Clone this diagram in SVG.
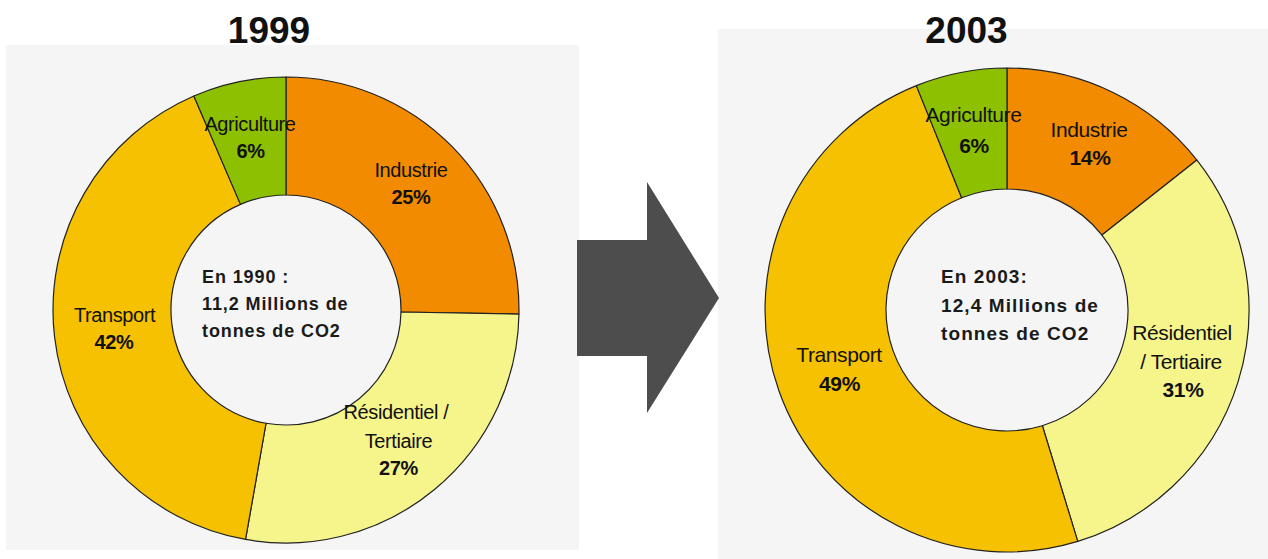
<svg xmlns="http://www.w3.org/2000/svg" width="1268" height="559" viewBox="0 0 1268 559">
<style>
.panel{fill:#f5f5f5}
.seg{stroke:#222;stroke-width:1.2;stroke-linejoin:round}
.ind{fill:#f38b00}
.agr{fill:#8dc000}
.tra{fill:#f5c100}
.res{fill:#f6f58c}
text{font-family:"Liberation Sans",Arial,sans-serif;fill:#111}
.title{font-size:37px;font-weight:bold;text-anchor:middle}
.lbl{font-size:20px;letter-spacing:-0.4px;text-anchor:middle}
.lblr{font-size:21px;letter-spacing:-0.4px;text-anchor:middle}
.b{font-weight:bold}
.ctr{font-size:18px;font-weight:bold;letter-spacing:0.9px;fill:#1a1a1a}
.ctrr{font-size:19px;font-weight:bold;letter-spacing:1.1px;fill:#1a1a1a}
.arrow{fill:#4d4d4d}
</style>
<rect width="1268" height="559" fill="#ffffff"/>
<rect class="panel" x="6" y="45" width="573" height="505"/>
<rect class="panel" x="718" y="29" width="550" height="530"/>

<g id="title-1999"><text class="title" x="269" y="43">1999</text></g>
<g id="title-2003"><text class="title" x="966.5" y="43">2003</text></g>

<g id="chart-1999">
<g id="industrie-1999">
<path class="seg ind" d="M 286 77 A 233 233 0 0 1 518.96 314.07 L 400.98 312.01 A 115 115 0 0 0 286 195 Z"/>
<text class="lbl" x="411" y="177">Industrie</text>
<text class="lbl b" x="411" y="204">25%</text>
</g>
<g id="residentiel-1999">
<path class="seg res" d="M 518.96 314.07 A 233 233 0 0 1 245.54 539.46 L 266.03 423.25 A 115 115 0 0 0 400.98 312.01 Z"/>
<text class="lbl" x="396" y="419">Résidentiel /</text>
<text class="lbl" x="398.5" y="447.5">Tertiaire</text>
<text class="lbl b" x="398.5" y="475">27%</text>
</g>
<g id="transport-1999">
<path class="seg tra" d="M 245.54 539.46 A 233 233 0 0 1 193.84 96 L 240.51 204.38 A 115 115 0 0 0 266.03 423.25 Z"/>
<text class="lbl" x="114.5" y="322">Transport</text>
<text class="lbl b" x="114" y="348.5">42%</text>
</g>
<g id="agriculture-1999">
<path class="seg agr" d="M 193.84 96 A 233 233 0 0 1 286 77 L 286 195 A 115 115 0 0 0 240.51 204.38 Z"/>
<text class="lbl" x="250" y="131">Agriculture</text>
<text class="lbl b" x="250.5" y="157.5">6%</text>
</g>
<g id="center-1999">
<text class="ctr" x="202" y="283">En 1990 :</text>
<text class="ctr" x="202" y="310">11,2 Millions de</text>
<text class="ctr" x="202" y="336.5">tonnes de CO2</text>
</g>
</g>

<g id="chart-2003">
<g id="industrie-2003">
<path class="seg ind" d="M 1007 68 A 242 242 0 0 1 1196.92 160.01 L 1101.96 235.01 A 121 121 0 0 0 1007 189 Z"/>
<text class="lblr" x="1089" y="136.5">Industrie</text>
<text class="lblr b" x="1090" y="165">14%</text>
</g>
<g id="residentiel-2003">
<path class="seg res" d="M 1196.92 160.01 A 242 242 0 0 1 1077.75 541.42 L 1042.38 425.71 A 121 121 0 0 0 1101.96 235.01 Z"/>
<text class="lblr" x="1182" y="340">Résidentiel</text>
<text class="lblr" x="1181" y="368.5">/ Tertiaire</text>
<text class="lblr b" x="1183" y="397">31%</text>
</g>
<g id="transport-2003">
<path class="seg tra" d="M 1077.75 541.42 A 242 242 0 0 1 916.34 85.62 L 961.67 197.81 A 121 121 0 0 0 1042.38 425.71 Z"/>
<text class="lblr" x="839" y="362">Transport</text>
<text class="lblr b" x="839.5" y="391">49%</text>
</g>
<g id="agriculture-2003">
<path class="seg agr" d="M 916.34 85.62 A 242 242 0 0 1 1007 68 L 1007 189 A 121 121 0 0 0 961.67 197.81 Z"/>
<text class="lblr" x="973.5" y="122">Agriculture</text>
<text class="lblr b" x="974" y="152.5">6%</text>
</g>
<g id="center-2003">
<text class="ctrr" x="941" y="283">En 2003:</text>
<text class="ctrr" x="941" y="311.5">12,4 Millions de</text>
<text class="ctrr" x="941" y="340">tonnes de CO2</text>
</g>
</g>

<g id="connectors">
<polygon class="arrow" points="577,240 647,240 647,182 719,298 647,413 647,356 577,356"/>
</g>
</svg>
